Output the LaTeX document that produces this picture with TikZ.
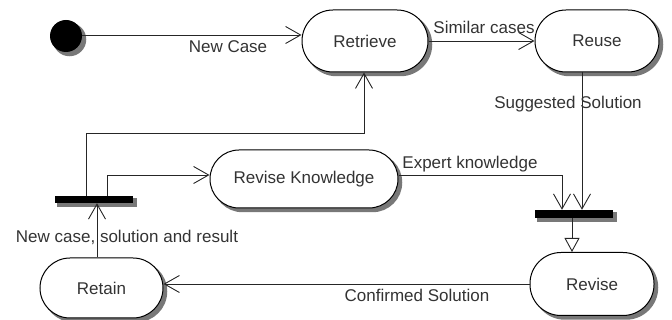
\documentclass[tikz,border=0pt]{standalone}
\usepackage{fontspec}
\setmainfont{Liberation Sans}
\usetikzlibrary{arrows.meta}
\definecolor{txt}{gray}{0.2}
\definecolor{shad}{RGB}{120,120,120}
\begin{document}
\begin{tikzpicture}[x=1pt,y=-1pt,
  every node/.style={font=\fontsize{17}{20}\selectfont, text=txt},
  state/.style={draw=black, line width=1pt, fill=white, rounded corners=31pt,
    minimum height=62pt, inner sep=0pt},
  bar/.style={fill=black, draw=none, inner sep=0pt, minimum height=8pt},
  shadowfill/.style={fill=shad, draw=shad, line width=1.5pt},
  conn/.style={line width=0.9pt, draw=black!85},
  barb/.style={-{Straight Barb[length=15pt,width=17pt,line width=0.9pt]}},
  lbl/.style={inner sep=0pt}]
\useasboundingbox (0,0) rectangle (672,320);

% shadows first (drawn beneath the shapes)
\filldraw[shadowfill] (69.5,39.5) circle[radius=16];
\filldraw[shadowfill, rounded corners=31pt] (305.5,13.5) rectangle (431.5,75.5);
\filldraw[shadowfill, rounded corners=31pt] (538.5,13.5) rectangle (662.5,75.5);
\filldraw[shadowfill, rounded corners=29pt] (213.5,153.5) rectangle (401.5,211.5);
\filldraw[shadowfill, rounded corners=31.5pt] (533.5,256) rectangle (657.5,319);
\filldraw[shadowfill, rounded corners=30pt] (43.5,261.5) rectangle (166.5,321.5);
\filldraw[shadowfill] (58,199) rectangle (136,206);
\filldraw[shadowfill] (538,213) rectangle (616,221);

\node[circle, fill=black, minimum size=32pt, inner sep=0pt] (start) at (66,36) {};
\node[state, minimum width=126pt] (retrieve) at (365,41) {Retrieve};
\node[state, minimum width=124pt] (reuse) at (597,41) {Reuse};
\node[state, minimum width=188pt, minimum height=58pt, rounded corners=29pt] (revkn) at (304,179) {Revise Knowledge};
\node[state, minimum width=124pt, minimum height=63pt] (revise) at (592,284) {Revise};
\node[state, minimum width=123pt, minimum height=60pt, rounded corners=30pt] (retain) at (101.5,288) {Retain};
\node[bar, minimum width=78pt, minimum height=7pt] (bar1) at (94,199.5) {};
\node[bar, minimum width=78pt] (bar2) at (574,214) {};

\coordinate (k1) at (86,133);

\draw[conn, barb] (start.east |- 0,35) -- (retrieve.west |- 0,35);
\draw[conn, barb] (retrieve.east) -- (reuse.west);
\draw[conn, barb] ([xshift=-15pt]reuse.south) -- ([xshift=-15pt]reuse.south |- bar2.north);
\draw[conn, barb] ([yshift=4pt]revkn.east) -| (562,0 |- bar2.north);
\draw[conn, -{Triangle[open,length=14pt,width=15pt,line width=0.9pt]}] ([xshift=-2pt]bar2.south) -- ([xshift=-2pt]bar2.south |- revise.north);
\draw[conn, barb] (revise.west |- 0,284) -- (retain.east |- 0,284);
\draw[conn, barb] ([xshift=-4.5pt]retain.north) -- ([xshift=-4.5pt]retain.north |- bar1.south);
\draw[conn, barb] (bar1.north -| k1) -- (k1) -| ([xshift=-1pt]retrieve.south);
\draw[conn, barb] (bar1.north -| 107,0) |- ([yshift=4pt]revkn.west);

\node[lbl] (lnew) at (228,47) {New Case};
\node[lbl] (lsim) at (484,27) {Similar cases};
\node[lbl] (lsug) at (568,104) {Suggested Solution};
\node[lbl] (lexp) at (470,164) {Expert knowledge};
\node[lbl] (lres) at (127,237) {New case, solution and result};
\node[lbl] (lconf) at (417,295) {Confirmed Solution};
\end{tikzpicture}
\end{document}
